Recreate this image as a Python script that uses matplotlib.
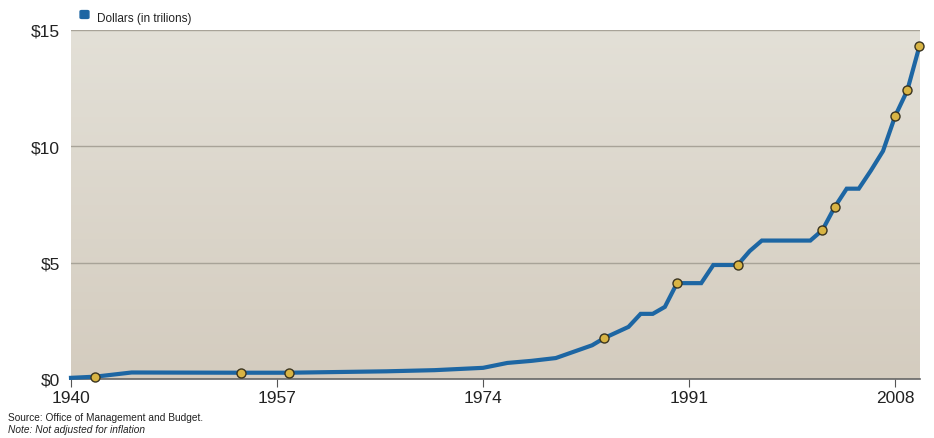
import numpy as np
import matplotlib
matplotlib.use("Agg")
import matplotlib.pyplot as plt
from matplotlib.colors import LinearSegmentedColormap
from matplotlib.patches import FancyBboxPatch

plt.rcParams['font.family'] = ['Liberation Sans', 'DejaVu Sans']

# debt in trillions of dollars
years = [1940, 1942, 1945, 1954, 1958, 1962, 1966, 1970, 1974, 1976, 1978,
         1980, 1983, 1984, 1986, 1987, 1988, 1989, 1990, 1992, 1993, 1995,
         1996, 1997, 2001, 2002, 2003, 2004, 2005, 2006, 2007, 2008, 2009, 2010]
debt = [0.05, 0.1, 0.28, 0.27, 0.27, 0.30, 0.33, 0.38, 0.48, 0.69, 0.78,
        0.9, 1.45, 1.76, 2.24, 2.8, 2.8, 3.1, 4.12, 4.12, 4.9, 4.9,
        5.5, 5.95, 5.95, 6.4, 7.38, 8.18, 8.18, 8.96, 9.8, 11.3, 12.4, 14.3]
dot_years = [1942, 1954, 1958, 1984, 1990, 1995, 2002, 2003, 2008, 2009, 2010]
dot_debt = [0.1, 0.27, 0.27, 1.76, 4.12, 4.9, 6.4, 7.38, 11.3, 12.4, 14.3]

xticks = [1940, 1957, 1974, 1991, 2008]
yticks = [0, 5, 10, 15]
ylabels = ['$0', '$5', '$10', '$15']

fig = plt.figure(figsize=(9.34, 4.39), dpi=100)
ax = fig.add_axes([71/934, 1-380/439, 849/934, 349/439])

xmin, xmax = 1940, 2010.05
ymin, ymax = 0, 15

# background gradient
cmap = LinearSegmentedColormap.from_list('bg', ['#d4ccbf', '#e3e0d7'])
grad = np.linspace(0, 1, 256).reshape(-1, 1)
ax.imshow(grad, extent=[xmin, xmax, ymin, ymax], origin='lower', aspect='auto',
          cmap=cmap, zorder=0)

for y in [5, 10, 15]:
    ax.axhline(y, color='#a8a398', lw=1, zorder=1)

ax.plot(years, debt, color='#1d66a3', lw=3, zorder=3, solid_joinstyle='miter',
        clip_on=False)
ax.plot(dot_years, dot_debt, 'o', color='#d8b444', markeredgecolor='#3a3420',
        markersize=6.5, markeredgewidth=1, zorder=4, clip_on=False)

ax.set_xlim(xmin, xmax)
ax.set_ylim(ymin, ymax)
ax.set_xticks(xticks)
ax.set_xticklabels([str(x) for x in xticks], fontsize=12.5, color='#222222')
ax.set_yticks(yticks)
ax.set_yticklabels(ylabels, fontsize=12.5, color='#222222')
ax.tick_params(axis='y', length=0, pad=8)
ax.tick_params(axis='x', direction='out', length=6, color='#555555', pad=2)
for s in ['top', 'right', 'left']:
    ax.spines[s].set_visible(False)
ax.spines['bottom'].set_color('#666666')
ax.spines['bottom'].set_linewidth(1.2)

# legend
fig.add_artist(FancyBboxPatch((81/934, 1-19/439), 7/934, 7/439,
                              boxstyle='round,pad=0.001,rounding_size=0.002',
                              transform=fig.transFigure, color='#1d66a3'))
fig.text(97/934, 1-19/439, 'Dollars (in trilions)', fontsize=8.5, color='#222222', va='center')

fig.text(8/934, 1-418/439, 'Source: Office of Management and Budget.', fontsize=7.3, color='#222222', va='center')
fig.text(8/934, 1-430/439, 'Note: Not adjusted for inflation', fontsize=7.3, color='#222222',
         va='center', style='italic')

fig.savefig('out.png', dpi=100)
